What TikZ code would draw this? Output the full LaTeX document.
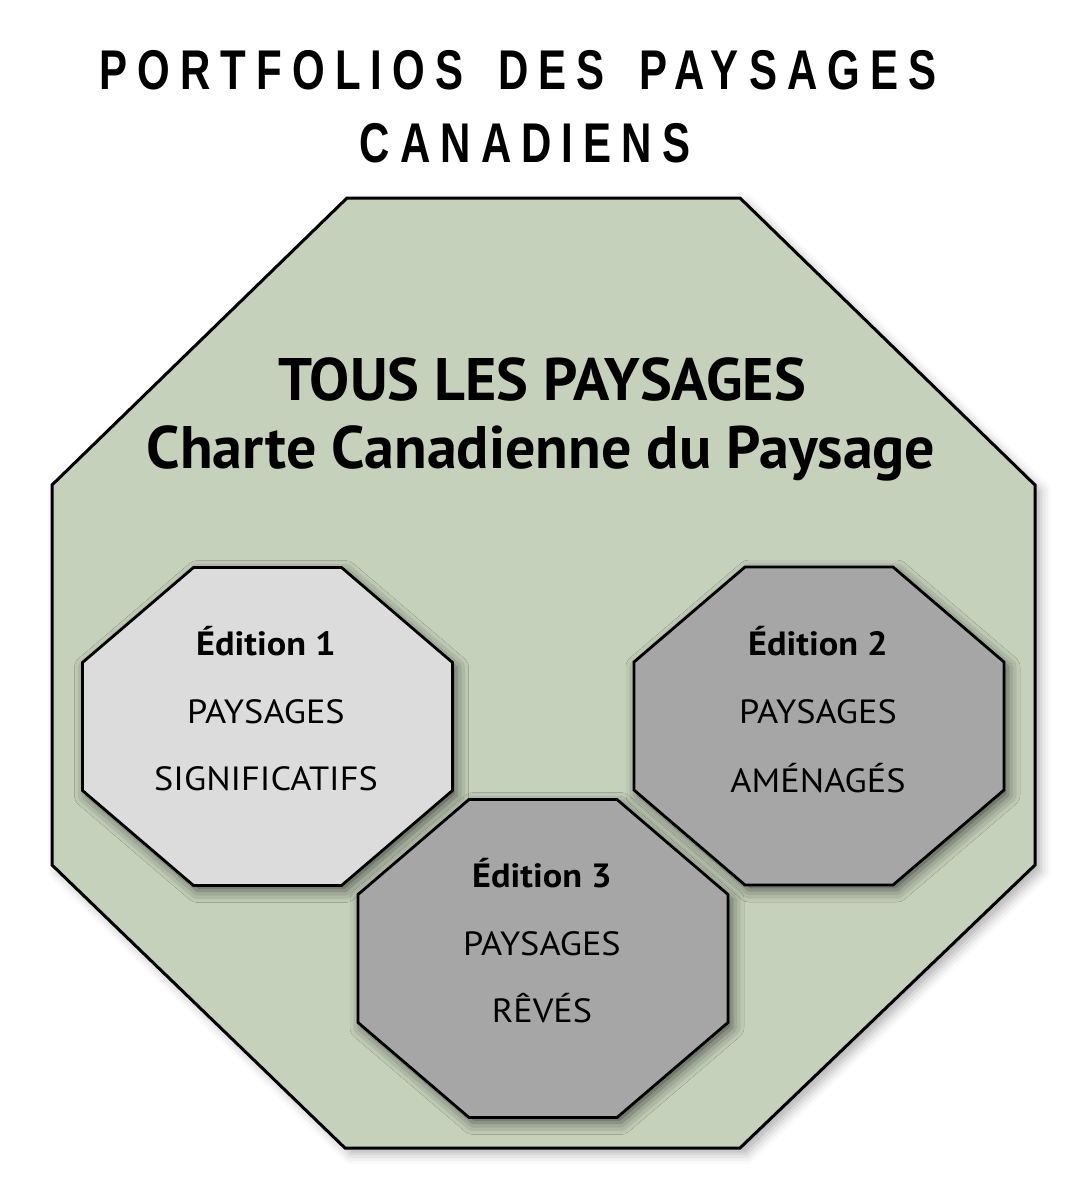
\documentclass[tikz,border=0pt]{standalone}
\usepackage{fontspec}
\usetikzlibrary{shadows.blur}
\newfontfamily\titlefont[FakeStretch=0.75,LetterSpace=18,WordSpace=1.6]{Liberation Sans}
\newfontfamily\labelfont{PT Sans}
\newfontfamily\edfont[FakeStretch=1.08]{PT Sans}
\definecolor{sage}{HTML}{C5D1BB}
\definecolor{edlight}{HTML}{DCDCDC}
\definecolor{eddark}{HTML}{A6A6A6}

\begin{document}
\begin{tikzpicture}[x=0.5pt,y=-0.5pt,
  bigoct/.style={draw=black,line width=1.5pt,fill=sage,
    blur shadow={shadow xshift=3pt,shadow yshift=-3pt,shadow opacity=30,shadow blur radius=5pt}},
  edoct/.style={draw=black,line width=1.4pt,
    blur shadow={shadow xshift=2pt,shadow yshift=-2.5pt,shadow opacity=60,shadow blur radius=6pt}},
  titletext/.style={font=\titlefont\bfseries\fontsize{28}{34}\selectfont,anchor=base,inner sep=0pt},
  headtext/.style={font=\labelfont\bfseries\fontsize{30}{36}\selectfont,anchor=base,inner sep=0pt},
  edhead/.style={font=\edfont\bfseries\fontsize{16.8}{20}\selectfont,anchor=base,inner sep=0pt},
  edtext/.style={font=\edfont\fontsize{16.8}{20}\selectfont,anchor=base,inner sep=0pt}]
\useasboundingbox (0,0) rectangle (1086,1200);

% title
\node[titletext] (title1) at (518,89) {PORTFOLIOS DES PAYSAGES};
\node[titletext] (title2) at (525,162) {CANADIENS};

% big octagon
\draw[bigoct] (347,198) -- (740,198) -- (1035,485) -- (1035,865) -- (740,1148) -- (345,1148) -- (52,865) -- (52,485) -- cycle;
\node[headtext] (allhead) at (542,400) {TOUS LES PAYSAGES};
\node[headtext] (charter) at (541,468) {Charte Canadienne du Paysage};

% the three editions
\foreach \cx/\cy/\col in {267.5/726.5/edlight,819/726/eddark,543/958.5/eddark}
  \draw[edoct,fill=\col] ({\cx-74},{\cy-159}) -- ({\cx+74},{\cy-159}) -- ({\cx+185},{\cy-64}) -- ({\cx+185},{\cy+64}) -- ({\cx+74},{\cy+159}) -- ({\cx-74},{\cy+159}) -- ({\cx-185},{\cy+64}) -- ({\cx-185},{\cy-64}) -- cycle;

\node[edhead] (edone) at (266,655) {Édition 1};
\node[edtext] (edonea) at (266,723) {PAYSAGES};
\node[edtext] (edoneb) at (266,790) {SIGNIFICATIFS};

\node[edhead] (edtwo) at (818,655) {Édition 2};
\node[edtext] (edtwoa) at (818,723) {PAYSAGES};
\node[edtext] (edtwob) at (818,792) {AMÉNAGÉS};

\node[edhead] (edthree) at (542,887) {Édition 3};
\node[edtext] (edthreea) at (542,955) {PAYSAGES};
\node[edtext] (edthreeb) at (542,1022) {RÊVÉS};
\end{tikzpicture}
\end{document}
